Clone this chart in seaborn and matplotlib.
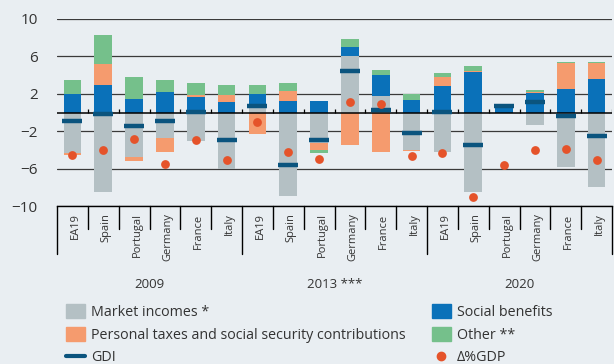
import numpy as np
import pandas as pd
import seaborn as sns
import matplotlib
matplotlib.use("Agg")
import matplotlib.pyplot as plt
from matplotlib.patches import Patch
from matplotlib.lines import Line2D

years = ["2009", "2013 ***", "2020"]
countries = ["EA19", "Spain", "Portugal", "Germany", "France", "Italy"]

market = [-4.37, -8.50, -4.73, -2.76, -3.08, -6.06,
          0.60, -8.90, -3.23, 6.02, 1.79, -3.98,
          -4.27, -8.46, 0.00, -1.29, -5.81, -7.96]
social = [1.97, 2.90, 1.43, 2.19, 1.61, 1.11,
          1.35, 1.22, 1.25, 1.00, 2.22, 1.29,
          2.80, 4.30, 0.80, 2.08, 2.51, 3.55]
taxes = [-0.15, 2.33, -0.50, -1.50, 0.22, 0.72,
         -2.35, 1.07, -0.75, -3.51, -4.19, -0.18,
         1.00, 0.18, 0.00, 0.14, 2.80, 1.75]
other = [1.47, 3.08, 2.40, 1.25, 1.32, 1.07,
         0.95, 0.86, -0.32, 0.86, 0.50, 0.71,
         0.43, 0.47, 0.00, 0.22, 0.14, 0.14]
gdi = [-0.93, -0.20, -1.47, -0.93, 0.04, -2.97,
       0.70, -5.66, -2.97, 4.44, 0.25, -2.15,
       0.04, -3.51, 0.66, 1.11, -0.39, -2.54]
d_gdp = [-4.50, -4.00, -2.83, -5.56, -2.97, -5.05,
         -0.97, -4.23, -4.98, 1.08, 0.93, -4.70,
         -4.30, -9.07, -5.66, -4.01, -3.87, -5.09]

bg = "#E9EEF2"
txt = "#333333"
colors = {
    "Market incomes *": "#B4C0C4",
    "Social benefits": "#0A71B9",
    "Personal taxes and social security contributions": "#F59B6E",
    "Other **": "#75C08B",
}
gdi_col = "#0B547E"
gdp_col = "#E5532A"

keys = [y + "|" + c for y in years for c in countries]
df = pd.DataFrame({"key": keys,
                   "Market incomes *": market,
                   "Social benefits": social,
                   "Personal taxes and social security contributions": taxes,
                   "Other **": other,
                   "GDI": gdi, "dGDP": d_gdp})

sns.set_style("white")
plt.rcParams["font.family"] = ["Open Sans", "DejaVu Sans"]

fig = plt.figure(figsize=(6.14, 3.64), dpi=100, facecolor=bg)
ax = fig.add_axes([57 / 614, 1 - 206 / 364, 555 / 614, 187 / 364])
ax.set_facecolor(bg)

# stacked bars, positives and negatives stacked separately
pos = np.zeros(len(df))
neg = np.zeros(len(df))
for comp in ["Market incomes *", "Social benefits",
             "Personal taxes and social security contributions", "Other **"]:
    v = df[comp].to_numpy()
    base = np.where(v >= 0, pos, neg)
    sns.barplot(x=df["key"], y=v, order=keys, bottom=base, color=colors[comp],
                saturation=1, width=0.57, errorbar=None, ax=ax, zorder=2,
                linewidth=0)
    pos = pos + np.clip(v, 0, None)
    neg = neg + np.clip(v, None, 0)

ax.axhline(0, color="black", lw=1.1, zorder=3)
n = len(keys)
ax.vlines(np.arange(n) + 0.5, 0, 0.35, color="black", lw=0.9, zorder=3)

sns.scatterplot(x=df["key"], y=df["GDI"], marker="_", s=200, linewidth=3.2,
                color=gdi_col, ax=ax, zorder=4)
sns.scatterplot(x=df["key"], y=df["dGDP"], marker="o", s=40, linewidth=0,
                color=gdp_col, ax=ax, zorder=5)

ax.set_xlim(-0.5, n - 0.5)
ax.set_ylim(-10, 10)
ax.set_yticks([-10, -6, -2, 2, 6, 10])
ax.yaxis.grid(True, color="#3a3a3a", lw=0.9, zorder=0)
ax.set_axisbelow(True)
ax.tick_params(axis="y", length=0, pad=14, labelsize=11, labelcolor=txt)
ax.tick_params(axis="x", length=0, labelbottom=False)
ax.set_xlabel("")
ax.set_ylabel("")
for s in ["top", "left", "right"]:
    ax.spines[s].set_visible(False)
ax.spines["bottom"].set_color("black")
ax.spines["bottom"].set_linewidth(1.0)

# category table under the axis
tr = ax.get_xaxis_transform()
for i in range(n + 1):
    low = -0.257 if i % 6 == 0 else -0.123
    ax.plot([i - 0.5, i - 0.5], [0, low], color="black", lw=1.0,
            transform=tr, clip_on=False)
for i, k in enumerate(keys):
    ax.text(i + 0.1, -0.04, k.split("|")[1], rotation=90, ha="center", va="top",
            fontsize=8, color=txt, transform=tr)
for j, y in enumerate(years):
    ax.text(j * 6 + 2.5, -0.42, y, ha="center", va="center", fontsize=9.5,
            color=txt, transform=tr)

h1 = [Patch(color=colors["Market incomes *"]),
      Patch(color=colors["Personal taxes and social security contributions"]),
      Line2D([], [], color=gdi_col, lw=3)]
l1 = ["Market incomes *", "Personal taxes and social security contributions", "GDI"]
h2 = [Patch(color=colors["Social benefits"]),
      Patch(color=colors["Other **"]),
      Line2D([], [], color=gdp_col, marker="o", ls="none", markersize=6)]
l2 = ["Social benefits", "Other **", "Δ%GDP"]
kw = dict(loc="upper left", frameon=False, fontsize=10.3, borderpad=0,
          borderaxespad=0, handlelength=1.3, handleheight=1.1,
          handletextpad=0.45, labelspacing=0.5, labelcolor=txt)
fig.legend(h1, l1, bbox_to_anchor=(66 / 614, 1 - 304 / 364), **kw)
fig.legend(h2, l2, bbox_to_anchor=(432 / 614, 1 - 304 / 364), **kw)

fig.savefig("out.png", dpi=100, facecolor=bg)
